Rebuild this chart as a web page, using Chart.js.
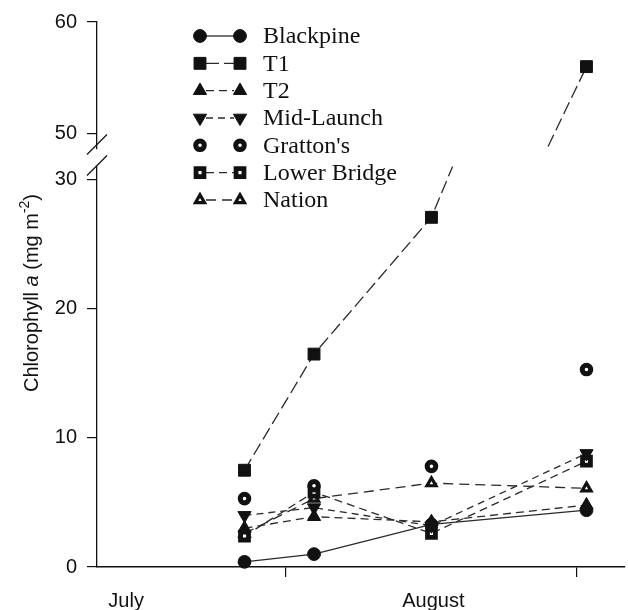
<!DOCTYPE html>
<html>
<head>
<meta charset="utf-8">
<style>
  html, body { margin: 0; padding: 0; background: #fff; }
  canvas { display: block; }
</style>
<script src="https://cdn.jsdelivr.net/npm/chart.js@4.4.1/dist/chart.umd.min.js"></script>
</head>
<body>
<canvas id="chl" width="628" height="610"></canvas>
<script>
// Sampling dates (day of year) and chlorophyll a per site (mg m^-2)
const sampleDays  = [208.6, 216, 228.5, 245];
const blackpine   = [0.4, 1.0, 3.3, 4.4];
const t1          = [7.5, 16.5, 27.1, 56.0];
const t2          = [3.0, 3.9, 3.5, 4.8];
const midLaunch   = [4.0, 4.6, 3.2, 8.8];
const grattons    = [5.3, 6.3, 7.8, 15.3];
const lowerBridge = [2.4, 5.8, 2.6, 8.2];
const nation      = [2.6, 5.3, 6.5, 6.1];

// Axis ticks and labels
const lowerTicks     = [0, 10, 20, 30];
const upperTicks     = [50, 60];
const monthTickDays  = [213, 244];
const monthNames     = ['July', 'August'];
const monthLabelDays = [196, 228.7];

// Broken y axis: lower panel, gap, upper panel
const lowerRange = [0, 31.04];
const upperRange = [48.66, 60];
const xRange     = [192.9, 249.1];

const INK = '#111';
const LINE = '#2a2a2a';
const TICK_FONT = { family: 'Liberation Sans, Arial, sans-serif', size: 20 };

function pts(vals) {
  return sampleDays.map((d, i) => ({ x: d, y: vals[i] }));
}

function series(label, vals, style, axis) {
  return Object.assign({
    label,
    data: pts(vals),
    yAxisID: axis || 'yLow',
    borderColor: LINE,
    borderWidth: 1.3,
    pointBackgroundColor: INK,
    pointBorderColor: INK,
    pointBorderWidth: 1,
    pointRadius: 6,
    pointHoverRadius: 6,
    tension: 0,
    fill: false,
    clip: false
  }, style);
}

const styles = {
  blackpine:   { pointStyle: 'circle', pointRadius: 6.4, borderDash: [] },
  t1:          { pointStyle: 'rect', pointRadius: 8.4, borderDash: [13, 5] },
  t2:          { pointStyle: 'triangle', pointRadius: 7.6, borderDash: [8, 5] },
  midLaunch:   { pointStyle: 'triangle', pointRotation: 180, pointRadius: 7.6, borderDash: [7, 5] },
  grattons:    { pointStyle: 'circle', pointRadius: 4.3, pointBorderWidth: 5, pointBackgroundColor: '#fff', showLine: false },
  lowerBridge: { pointStyle: 'rect', pointRadius: 5.6, pointBorderWidth: 4.8, pointBackgroundColor: '#fff', borderDash: [8, 5] },
  nation:      { pointStyle: 'triangle', pointRadius: 5.2, pointBorderWidth: 3.2, pointBackgroundColor: '#fff', borderDash: [10, 6] }
};

const datasets = [
  series('Blackpine', blackpine, styles.blackpine),
  series('T1', t1, styles.t1),
  series('T2', t2, styles.t2),
  series('Mid-Launch', midLaunch, styles.midLaunch),
  series("Gratton's", grattons, styles.grattons),
  series('Lower Bridge', lowerBridge, styles.lowerBridge),
  series('Nation', nation, styles.nation),
  // same T1 values drawn again against the upper panel of the broken axis
  Object.assign(series('T1', t1, styles.t1, 'yHigh'), { upperCopy: true })
];

// Each dataset is clipped to the panel of its own y scale
const panelClip = {
  id: 'panelClip',
  beforeDatasetDraw(chart, args) {
    const ys = args.meta.yScale;
    const ctx = chart.ctx;
    const below = ys.id === 'yLow' ? 12 : 0;
    ctx.save();
    ctx.beginPath();
    ctx.rect(0, ys.top, chart.width, ys.bottom - ys.top + below);
    ctx.clip();
  },
  afterDatasetDraw(chart) {
    chart.ctx.restore();
  }
};

// Slashes marking the axis break
const axisBreak = {
  id: 'axisBreak',
  afterDraw(chart) {
    const lo = chart.scales.yLow, hi = chart.scales.yHigh;
    const x = chart.chartArea.left;
    const ctx = chart.ctx;
    ctx.save();
    ctx.strokeStyle = INK;
    ctx.lineWidth = 1.2;
    ctx.beginPath();
    for (const y of [hi.bottom - 4, lo.top - 1]) {
      ctx.moveTo(x - 10, y + 10);
      ctx.lineTo(x + 10, y - 10);
    }
    ctx.stroke();
    ctx.restore();
  }
};

// Rotated y-axis title with italic "a" and superscript exponent
const yTitle = {
  id: 'yTitle',
  afterDraw(chart) {
    const ctx = chart.ctx;
    const fam = 'Liberation Sans, Arial, sans-serif';
    const parts = [
      { t: 'Chlorophyll ', f: `20px ${fam}`, dy: 0 },
      { t: 'a', f: `italic 20px ${fam}`, dy: 0 },
      { t: ' (mg m', f: `20px ${fam}`, dy: 0 },
      { t: '-2', f: `14px ${fam}`, dy: -7 },
      { t: ')', f: `20px ${fam}`, dy: 0 }
    ];
    ctx.save();
    let total = 0;
    for (const p of parts) { ctx.font = p.f; p.w = ctx.measureText(p.t).width; total += p.w; }
    ctx.translate(32, 293);
    ctx.rotate(-Math.PI / 2);
    ctx.fillStyle = INK;
    ctx.textBaseline = 'middle';
    ctx.textAlign = 'left';
    let cx = -total / 2;
    for (const p of parts) {
      ctx.font = p.f;
      ctx.fillText(p.t, cx, p.dy);
      cx += p.w;
    }
    ctx.restore();
  }
};

// Legend: marker - line - marker sample followed by the site name
const sampleLegend = {
  id: 'sampleLegend',
  afterDraw(chart) {
    const ctx = chart.ctx;
    const x1 = 200, x2 = 240, tx = 263, y0 = 36, step = 27.33;
    let row = 0;
    chart.data.datasets.forEach((ds) => {
      if (ds.upperCopy) return;
      const y = y0 + row * step;
      ctx.save();
      if (ds.showLine !== false) {
        ctx.strokeStyle = ds.borderColor;
        ctx.lineWidth = ds.borderWidth;
        ctx.setLineDash(ds.borderDash || []);
        ctx.beginPath();
        ctx.moveTo(x1 + 6, y);
        ctx.lineTo(x2 - 6, y);
        ctx.stroke();
        ctx.setLineDash([]);
      }
      const opts = {
        pointStyle: ds.pointStyle,
        rotation: ds.pointRotation || 0,
        radius: ds.pointRadius,
        borderWidth: ds.pointBorderWidth
      };
      for (const x of [x1, x2]) {
        ctx.fillStyle = ds.pointBackgroundColor;
        ctx.strokeStyle = ds.pointBorderColor;
        ctx.lineWidth = ds.pointBorderWidth;
        Chart.helpers.drawPoint(ctx, opts, x, y);
      }
      ctx.fillStyle = INK;
      ctx.font = '24px "Liberation Serif", "Times New Roman", serif';
      ctx.textBaseline = 'middle';
      ctx.fillText(ds.label, tx, y + 1);
      ctx.restore();
      row++;
    });
  }
};

const yCommon = {
  type: 'linear',
  position: 'left',
  stack: 'left',
  border: { color: INK, width: 1.3 },
  grid: { drawOnChartArea: false, tickLength: 10, color: INK, lineWidth: 1.2 },
  ticks: { color: INK, font: TICK_FONT, padding: 10 },
  afterFit(s) { s.width = 97; }
};

new Chart(document.getElementById('chl'), {
  type: 'line',
  data: { datasets },
  options: {
    responsive: false,
    animation: false,
    devicePixelRatio: 1,
    layout: { autoPadding: false, padding: { top: 20, right: 3, left: 0, bottom: 0 } },
    plugins: { legend: { display: false }, tooltip: { enabled: false } },
    scales: {
      x: {
        type: 'linear',
        position: 'bottom',
        min: xRange[0], max: xRange[1],
        border: { color: INK, width: 1.6 },
        grid: { drawOnChartArea: false, tickLength: 10, color: INK, lineWidth: 1.2 },
        ticks: { display: false },
        afterBuildTicks(s) { s.ticks = monthTickDays.map(v => ({ value: v })); },
        afterFit(s) { s.height = 12; }
      },
      x2: {
        type: 'linear',
        position: 'bottom',
        min: xRange[0], max: xRange[1],
        border: { display: false },
        grid: { display: false, drawTicks: false },
        ticks: {
          color: INK,
          font: TICK_FONT,
          padding: 10,
          maxRotation: 0,
          callback: (v, i) => monthNames[i]
        },
        afterBuildTicks(s) { s.ticks = monthLabelDays.map(v => ({ value: v })); },
        afterFit(s) { s.height = 31; }
      },
      yLow: Object.assign({}, yCommon, {
        min: lowerRange[0], max: lowerRange[1], stackWeight: 402,
        afterBuildTicks(s) { s.ticks = lowerTicks.map(v => ({ value: v })); }
      }),
      yGap: {
        type: 'linear', position: 'left', stack: 'left', stackWeight: 18,
        display: false, min: lowerRange[1], max: upperRange[0]
      },
      yHigh: Object.assign({}, yCommon, {
        min: upperRange[0], max: upperRange[1], stackWeight: 127,
        afterBuildTicks(s) { s.ticks = upperTicks.map(v => ({ value: v })); }
      })
    }
  },
  plugins: [panelClip, axisBreak, yTitle, sampleLegend]
});
</script>
</body>
</html>
